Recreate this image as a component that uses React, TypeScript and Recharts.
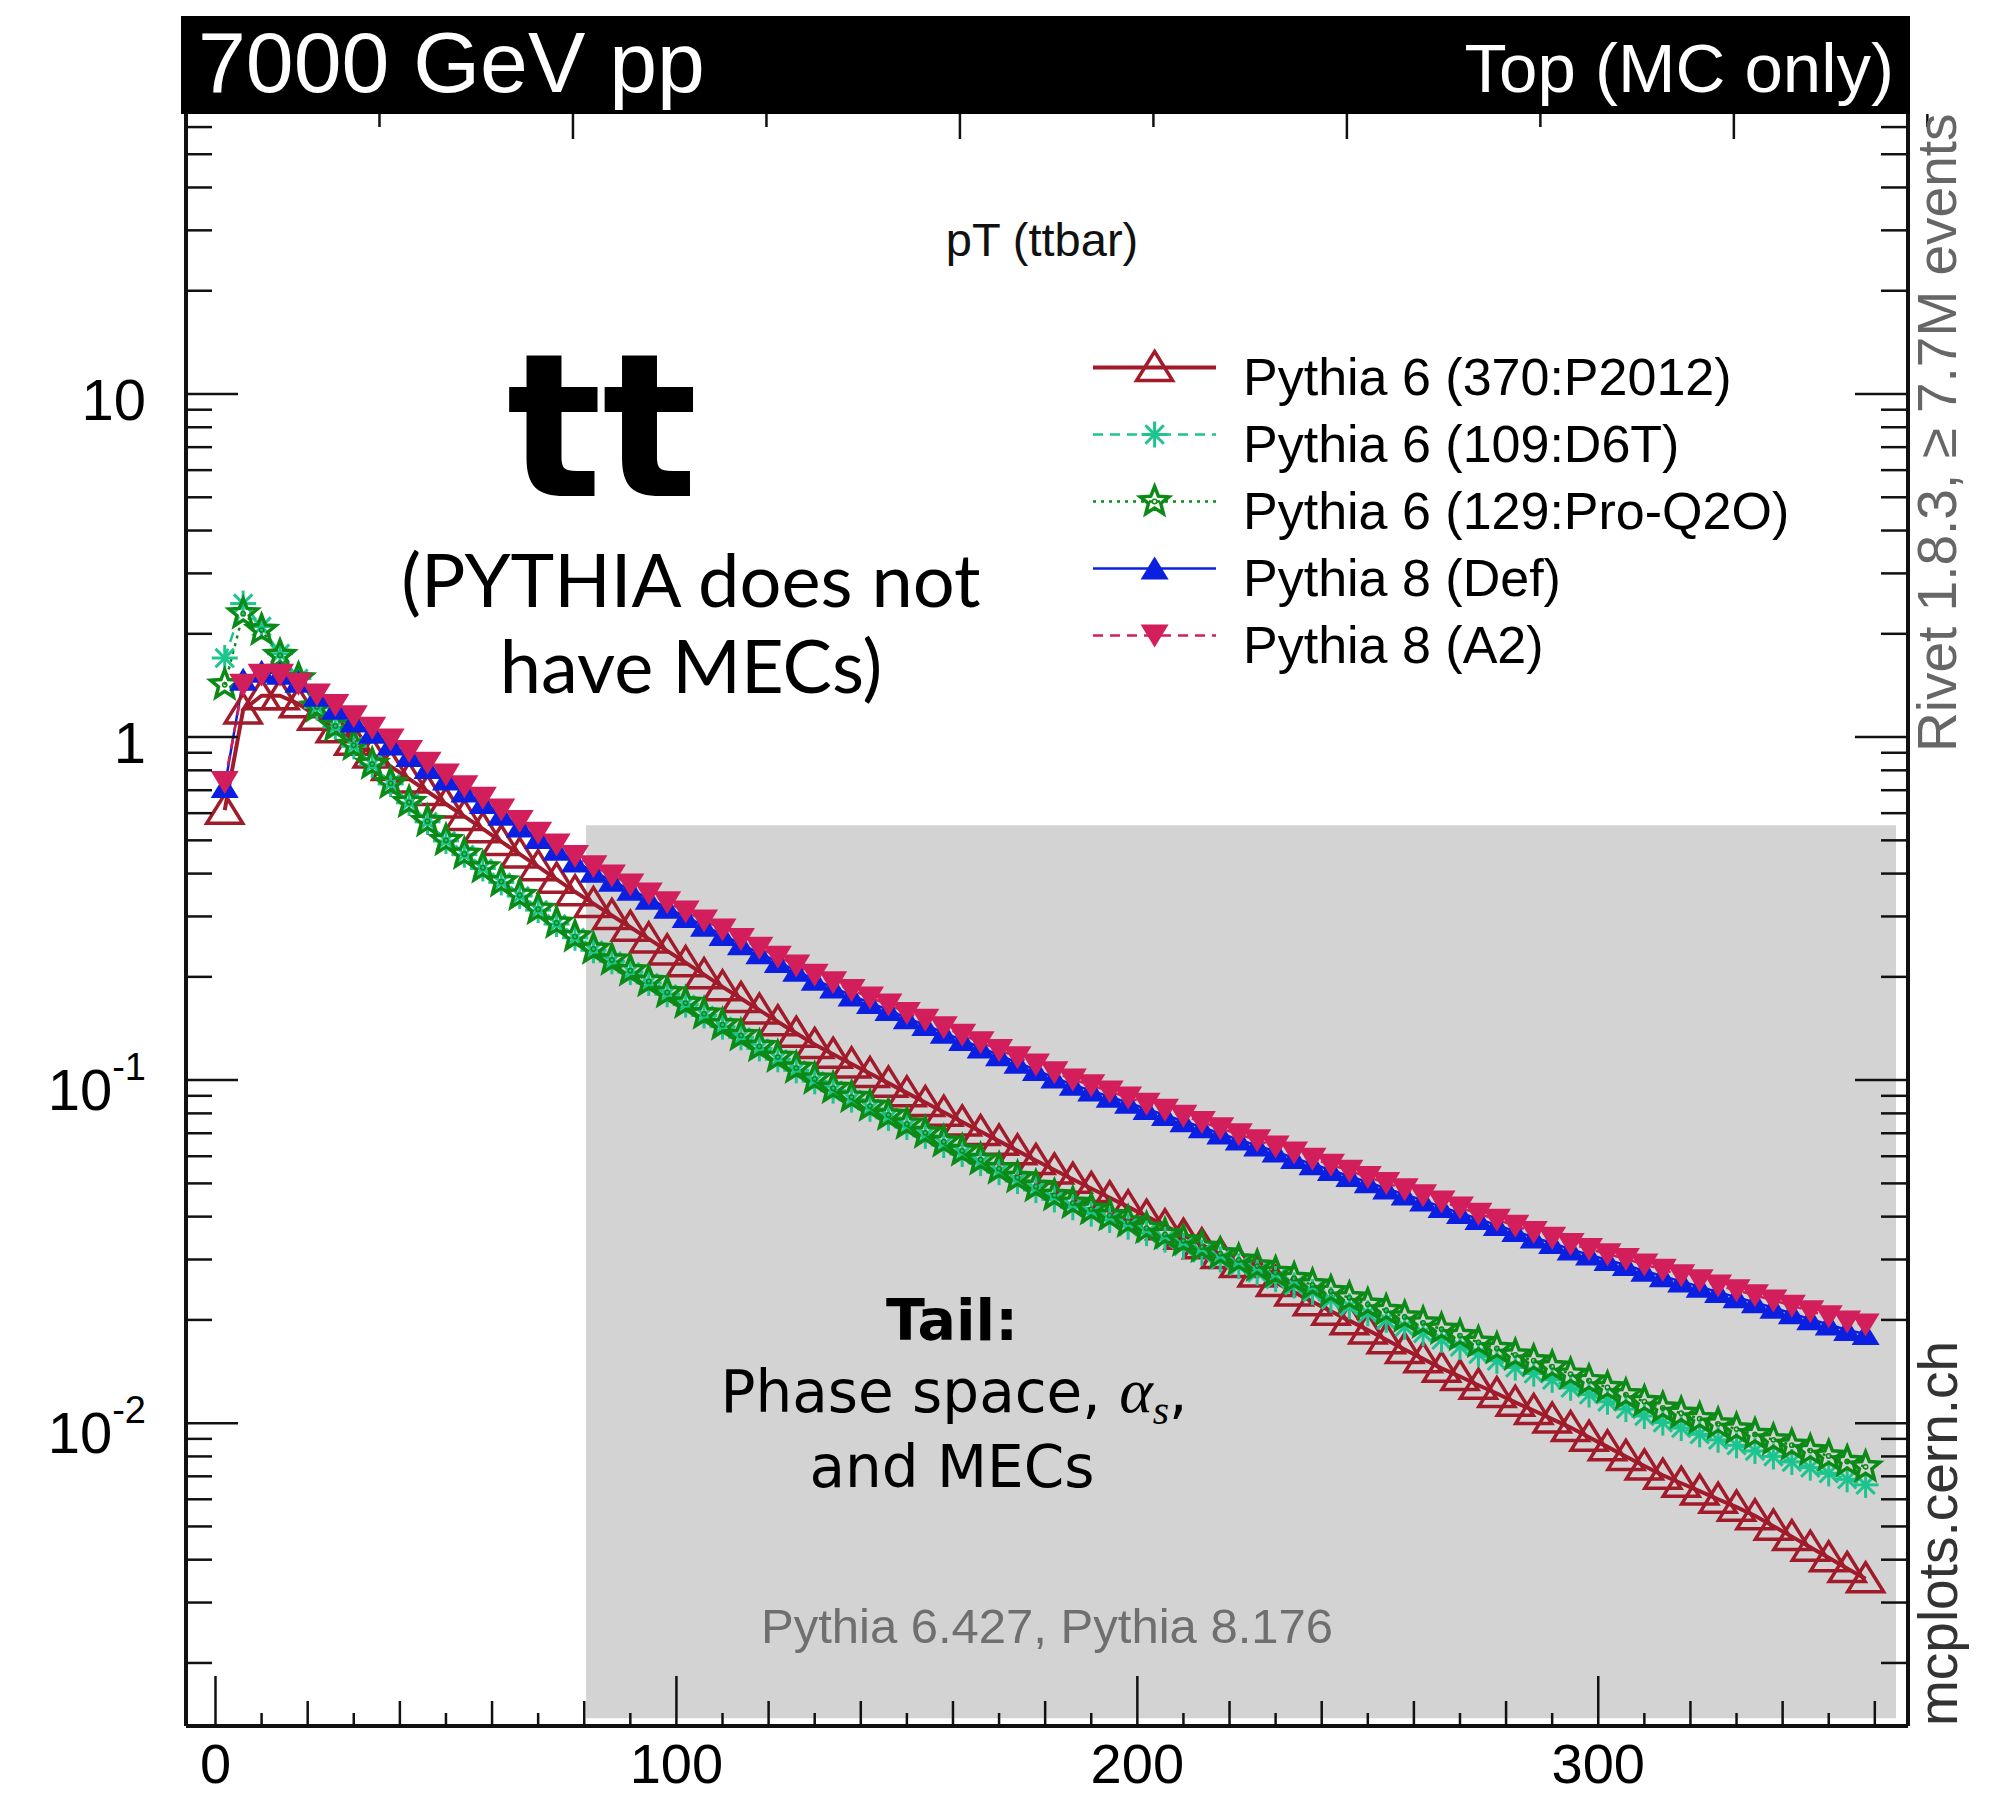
import React from 'react'
import { Legend, Line, LineChart, ReferenceArea, XAxis, YAxis } from 'recharts'

// pT(ttbar) bin centres in GeV (4 GeV bins)
const ptBins = [
  2, 6, 10, 14, 18, 22, 26, 30, 34, 38, 42, 46, 50, 54, 58, 62, 66, 70, 74, 78,
  82, 86, 90, 94, 98, 102, 106, 110, 114, 118, 122, 126, 130, 134, 138, 142, 146, 150, 154, 158,
  162, 166, 170, 174, 178, 182, 186, 190, 194, 198, 202, 206, 210, 214, 218, 222, 226, 230, 234, 238,
  242, 246, 250, 254, 258, 262, 266, 270, 274, 278, 282, 286, 290, 294, 298, 302, 306, 310, 314, 318,
  322, 326, 330, 334, 338, 342, 346, 350, 354, 358,
]

// Pythia 6 (370:P2012)
const p6_370 = [
  0.612, 1.2, 1.32, 1.32, 1.25, 1.15, 1.057, 0.972, 0.893, 0.821,
  0.755, 0.694, 0.638, 0.587, 0.54, 0.496, 0.456, 0.419, 0.385, 0.354,
  0.327, 0.302, 0.279, 0.258, 0.238, 0.22, 0.203, 0.187, 0.173, 0.16,
  0.148, 0.137, 0.127, 0.119, 0.1115, 0.1045, 0.098, 0.0918, 0.086, 0.0806,
  0.0755, 0.0708, 0.0664, 0.0622, 0.0583, 0.0547, 0.0514, 0.0483, 0.0454, 0.0427,
  0.0401, 0.0376, 0.0353, 0.0331, 0.031, 0.0292, 0.0274, 0.0257, 0.0241, 0.0226,
  0.0212, 0.0199, 0.0187, 0.0175, 0.0164, 0.0154, 0.01445, 0.01368, 0.0129, 0.0122,
  0.0115, 0.01089, 0.01028, 0.00971, 0.0091, 0.00853, 0.008, 0.0075, 0.00705, 0.00668,
  0.00634, 0.006, 0.00569, 0.00537, 0.00501, 0.00467, 0.00435, 0.00405, 0.00377, 0.00352,
]

// Pythia 6 (109:D6T)
const p6_109 = [
  1.7, 2.45, 2.1, 1.75, 1.48, 1.22, 1.07, 0.94, 0.83, 0.73,
  0.643, 0.566, 0.498, 0.454, 0.414, 0.377, 0.344, 0.313, 0.285, 0.26,
  0.239, 0.222, 0.2065, 0.192, 0.178, 0.166, 0.1543, 0.1432, 0.1333, 0.1237,
  0.115, 0.1068, 0.0992, 0.0932, 0.0877, 0.0825, 0.0776, 0.073, 0.0688, 0.0647,
  0.0609, 0.0573, 0.0539, 0.0508, 0.0478, 0.0449, 0.0426, 0.0408, 0.0391, 0.0374,
  0.0358, 0.0343, 0.0328, 0.0314, 0.03, 0.0287, 0.0275, 0.0263, 0.0252, 0.0241,
  0.0229, 0.0219, 0.0209, 0.02, 0.0191, 0.0183, 0.0175, 0.0167, 0.0159, 0.0152,
  0.01453, 0.01395, 0.01338, 0.01268, 0.01212, 0.01155, 0.01099, 0.01049, 0.01004, 0.00968,
  0.00928, 0.00894, 0.00862, 0.0083, 0.008, 0.00771, 0.00742, 0.00714, 0.00686, 0.00661,
]

// Pythia 6 (129:Pro-Q2O)
const p6_129 = [
  1.42, 2.29, 2.05, 1.73, 1.48, 1.225, 1.077, 0.947, 0.834, 0.733,
  0.645, 0.568, 0.5, 0.456, 0.416, 0.379, 0.346, 0.315, 0.287, 0.262,
  0.241, 0.224, 0.2085, 0.194, 0.18, 0.1677, 0.156, 0.145, 0.135, 0.1254,
  0.1167, 0.1084, 0.1008, 0.0947, 0.0892, 0.084, 0.0791, 0.0745, 0.0702, 0.0661,
  0.0622, 0.0586, 0.0552, 0.052, 0.049, 0.0461, 0.0438, 0.042, 0.0403, 0.0386,
  0.037, 0.0355, 0.034, 0.0326, 0.0312, 0.0299, 0.0287, 0.0275, 0.0264, 0.0253,
  0.0242, 0.0232, 0.0222, 0.0213, 0.0204, 0.0196, 0.0188, 0.018, 0.0172, 0.0165,
  0.0158, 0.0152, 0.0146, 0.0139, 0.0133, 0.0127, 0.0121, 0.01156, 0.01107, 0.01069,
  0.01031, 0.00995, 0.00961, 0.00927, 0.00894, 0.00863, 0.00832, 0.00802, 0.00773, 0.00746,
]

// Pythia 8 (Def)
const p8def = [
  0.715, 1.47, 1.55, 1.53, 1.45, 1.32, 1.21, 1.11, 1.03, 0.952,
  0.88, 0.812, 0.752, 0.694, 0.642, 0.594, 0.549, 0.508, 0.469, 0.434,
  0.405, 0.381, 0.359, 0.338, 0.318, 0.299, 0.282, 0.265, 0.249, 0.2345,
  0.221, 0.2085, 0.196, 0.1862, 0.1766, 0.1679, 0.1602, 0.1515, 0.1448, 0.1375,
  0.1308, 0.1245, 0.1182, 0.1124, 0.1071, 0.1017, 0.097, 0.0932, 0.0895, 0.0859,
  0.0824, 0.0791, 0.0759, 0.0729, 0.0699, 0.0671, 0.0645, 0.0619, 0.0593, 0.0569,
  0.0547, 0.0525, 0.0504, 0.0483, 0.0464, 0.0446, 0.0427, 0.041, 0.0394, 0.0378,
  0.0363, 0.0348, 0.0335, 0.0321, 0.031, 0.0299, 0.0289, 0.0278, 0.0268, 0.0259,
  0.025, 0.0241, 0.0233, 0.0225, 0.0217, 0.0209, 0.0201, 0.0194, 0.0187, 0.0182,
]

// Pythia 8 (A2)
const p8a2 = [
  0.74, 1.42, 1.52, 1.52, 1.43, 1.33, 1.24, 1.15, 1.064, 0.984,
  0.91, 0.841, 0.778, 0.719, 0.665, 0.615, 0.569, 0.526, 0.486, 0.45,
  0.42, 0.395, 0.372, 0.35, 0.33, 0.31, 0.292, 0.275, 0.258, 0.243,
  0.229, 0.216, 0.203, 0.193, 0.183, 0.174, 0.166, 0.157, 0.15, 0.1425,
  0.1355, 0.129, 0.1225, 0.1165, 0.111, 0.1054, 0.1005, 0.0966, 0.0927, 0.089,
  0.0854, 0.082, 0.0787, 0.0755, 0.0724, 0.0695, 0.0668, 0.0641, 0.0615, 0.059,
  0.0567, 0.0544, 0.0522, 0.0501, 0.0481, 0.0462, 0.0443, 0.0425, 0.0408, 0.0392,
  0.0376, 0.0361, 0.0347, 0.0333, 0.0322, 0.0311, 0.0301, 0.029, 0.028, 0.027,
  0.0261, 0.0252, 0.0244, 0.0236, 0.0228, 0.022, 0.0212, 0.0205, 0.0198, 0.0194,
]

const xTicks = [
  0, 10, 20, 30, 40, 50, 60, 70, 80, 90, 100, 110, 120, 130, 140, 150, 160, 170, 180,
  190, 200, 210, 220, 230, 240, 250, 260, 270, 280, 290, 300, 310, 320, 330, 340, 350, 360,
]

const yTicks = [
  0.002, 0.003, 0.004, 0.005, 0.006, 0.007, 0.008, 0.009,
  0.01, 0.02, 0.03, 0.04, 0.05, 0.06, 0.07, 0.08, 0.09,
  0.1, 0.2, 0.3, 0.4, 0.5, 0.6, 0.7, 0.8, 0.9,
  1, 2, 3, 4, 5, 6, 7, 8, 9,
  10, 20, 30, 40, 50, 60,
]

const series = [
  { key: 'p6_370', name: 'Pythia 6 (370:P2012)', color: '#a11b2b', dash: undefined, width: 4, marker: 'triOpen' },
  { key: 'p6_109', name: 'Pythia 6 (109:D6T)', color: '#1cc48e', dash: '10 7', width: 2.5, marker: 'aster' },
  { key: 'p6_129', name: 'Pythia 6 (129:Pro-Q2O)', color: '#0b8a16', dash: '3 5', width: 2.5, marker: 'star' },
  { key: 'p8def', name: 'Pythia 8 (Def)', color: '#0b1fe0', dash: undefined, width: 2.5, marker: 'triUp' },
  { key: 'p8a2', name: 'Pythia 8 (A2)', color: '#d21f5b', dash: '10 7', width: 2.5, marker: 'triDown' },
]

const chartData = ptBins.map((pt, i) => ({
  pt,
  p6_370: p6_370[i],
  p6_109: p6_109[i],
  p6_129: p6_129[i],
  p8def: p8def[i],
  p8a2: p8a2[i],
}))

const W = 1993
const H = 1797
const PLOT_L = 186
const PLOT_R = 1908
const PLOT_T = 114
const PLOT_B = 1726
const SANS = "'Liberation Sans', Arial, Helvetica, sans-serif"

const starPath = (cx: number, cy: number, R: number, r: number) => {
  let d = ''
  for (let k = 0; k < 10; k++) {
    const a = -Math.PI / 2 + (k * Math.PI) / 5
    const rad = k % 2 === 0 ? R : r
    d += (k === 0 ? 'M' : 'L') + (cx + rad * Math.cos(a)).toFixed(1) + ',' + (cy + rad * Math.sin(a)).toFixed(1) + ' '
  }
  return d + 'Z'
}

const Marker = ({ kind, cx, cy, color }: { kind: string; cx: number; cy: number; color: string }) => {
  if (kind === 'triOpen') {
    return <path d={`M${cx},${cy - 16} L${cx + 18},${cy + 13} L${cx - 18},${cy + 13} Z`} fill="none" stroke={color} strokeWidth={3.5} />
  }
  if (kind === 'triUp') {
    return <path d={`M${cx},${cy - 12} L${cx + 14},${cy + 11} L${cx - 14},${cy + 11} Z`} fill={color} />
  }
  if (kind === 'triDown') {
    return <path d={`M${cx},${cy + 12} L${cx + 14},${cy - 11} L${cx - 14},${cy - 11} Z`} fill={color} />
  }
  if (kind === 'star') {
    return (
      <g>
        <path d={starPath(cx, cy, 15, 6.5)} fill="none" stroke={color} strokeWidth={3.5} />
        <circle cx={cx} cy={cy} r={2.2} fill="none" stroke={color} strokeWidth={1.5} />
      </g>
    )
  }
  // asterisk
  const r = 13
  const d = r * 0.707
  return (
    <g stroke={color} strokeWidth={3}>
      <line x1={cx - r} x2={cx + r} y1={cy} y2={cy} />
      <line x1={cx} x2={cx} y1={cy - r} y2={cy + r} />
      <line x1={cx - d} x2={cx + d} y1={cy - d} y2={cy + d} />
      <line x1={cx - d} x2={cx + d} y1={cy + d} y2={cy - d} />
    </g>
  )
}

const isDecade = (v: number) => {
  const l = Math.log10(v)
  return Math.abs(l - Math.round(l)) < 1e-6
}

const LeftTick = (props: any) => {
  const { y, payload } = props
  const v = payload.value
  const major = isDecade(v)
  const e = Math.round(Math.log10(v))
  return (
    <g>
      <line x1={PLOT_L} x2={PLOT_L + (major ? 52 : 26)} y1={y} y2={y} stroke="#111" strokeWidth={2.5} />
      {major && e >= 0 && (
        <text x={146} y={y + 26} textAnchor="end" fontSize={58} fontFamily={SANS} fill="#000">
          {e === 0 ? '1' : '10'}
        </text>
      )}
      {major && e < 0 && (
        <text x={146} y={y + 30} textAnchor="end" fontSize={58} fontFamily={SANS} fill="#000">
          <tspan>10</tspan>
          <tspan dy={-30} fontSize={38}>{`-${-e}`}</tspan>
        </text>
      )}
    </g>
  )
}

const RightTick = (props: any) => {
  const { y, payload } = props
  const major = isDecade(payload.value)
  return <line x1={PLOT_R} x2={PLOT_R - (major ? 53 : 27)} y1={y} y2={y} stroke="#111" strokeWidth={2.5} />
}

const xTickLen = (v: number) => (v % 100 === 0 ? 50 : v % 20 === 0 ? 25 : 13)

const BottomTick = (props: any) => {
  const { x, payload } = props
  const v = payload.value
  return (
    <g>
      <line x1={x} x2={x} y1={PLOT_B} y2={PLOT_B - xTickLen(v)} stroke="#111" strokeWidth={2.5} />
      {v % 100 === 0 && (
        <text x={x} y={1783} textAnchor="middle" fontSize={56} fontFamily={SANS} fill="#000">
          {v}
        </text>
      )}
    </g>
  )
}

const TopTick = (props: any) => {
  const { x, payload } = props
  return <line x1={x} x2={x} y1={PLOT_T} y2={PLOT_T + xTickLen(payload.value)} stroke="#111" strokeWidth={2.5} />
}

const renderLegend = () => (
  <svg width={720} height={390}>
    {series.map((s, i) => {
      const cy = 47.5 + i * 67
      return (
        <g key={s.key}>
          <line x1={13} x2={136} y1={cy} y2={cy} stroke={s.color} strokeWidth={s.width} strokeDasharray={s.dash} />
          <Marker kind={s.marker} cx={74.6} cy={cy} color={s.color} />
          <text x={163} y={cy + 27} fontSize={52} fontFamily={SANS} fill="#000">
            {s.name}
          </text>
        </g>
      )
    })}
  </svg>
)

export default function App() {
  return (
    <div style={{ position: 'absolute', left: 0, top: 0, width: W, height: H, background: '#fff' }}>
      <LineChart width={W} height={H} data={chartData} margin={{ top: 0, right: 0, bottom: 0, left: 0 }}>
        <ReferenceArea
          xAxisId="bottom"
          yAxisId="left"
          x1={80.4}
          x2={364.6}
          y1={0.00138}
          y2={0.553}
          fill="#d3d3d3"
          fillOpacity={1}
          stroke="none"
          ifOverflow="visible"
        />
        <XAxis
          xAxisId="bottom"
          dataKey="pt"
          type="number"
          domain={[-6.4, 367.2]}
          ticks={xTicks}
          interval={0}
          height={71}
          allowDataOverflow
          axisLine={{ stroke: '#111', strokeWidth: 4 }}
          tickLine={false}
          tick={BottomTick}
        />
        <XAxis
          xAxisId="top"
          orientation="top"
          type="number"
          domain={[-6.4, 367.2]}
          ticks={xTicks}
          interval={0}
          height={114}
          allowDataOverflow
          axisLine={false}
          tickLine={false}
          tick={TopTick}
        />
        <YAxis
          yAxisId="left"
          type="number"
          scale="log"
          domain={[0.00131, 65.5]}
          ticks={yTicks}
          interval={0}
          width={186}
          allowDataOverflow
          axisLine={{ stroke: '#111', strokeWidth: 4 }}
          tickLine={false}
          tick={LeftTick}
        />
        <YAxis
          yAxisId="right"
          orientation="right"
          type="number"
          scale="log"
          domain={[0.00131, 65.5]}
          ticks={yTicks}
          interval={0}
          width={85}
          allowDataOverflow
          axisLine={{ stroke: '#111', strokeWidth: 4 }}
          tickLine={false}
          tick={RightTick}
        />
        {series.map((s) => (
          <Line
            key={s.key}
            xAxisId="bottom"
            yAxisId="left"
            type="linear"
            dataKey={s.key}
            name={s.name}
            stroke={s.color}
            strokeWidth={s.width}
            strokeDasharray={s.dash}
            isAnimationActive={false}
            activeDot={false}
            dot={(p: any) => (
              <g key={`${s.key}-${p.index}`}>
                <Marker kind={s.marker} cx={p.cx} cy={p.cy} color={s.color} />
              </g>
            )}
          />
        ))}
        <Legend
          layout="vertical"
          align="center"
          verticalAlign="middle"
          content={renderLegend}
          wrapperStyle={{ position: 'absolute', left: 1080, top: 320, width: 720, height: 390, margin: 0 }}
        />
      </LineChart>

      <svg
        width={W}
        height={H}
        style={{ position: 'absolute', left: 0, top: 0, pointerEvents: 'none' }}
      >
        {/* header bar */}
        <rect x={181} y={16} width={1729} height={98} fill="#000" />
        <text x={198} y={92} fontSize={86} fontFamily={SANS} fill="#fff">
          7000 GeV pp
        </text>
        <text x={1894} y={92} textAnchor="end" fontSize={69} fontFamily={SANS} fill="#fff">
          Top (MC only)
        </text>

        <text x={1042} y={256} textAnchor="middle" fontSize={47} fontFamily={SANS} fill="#111">
          pT (ttbar)
        </text>

        <text x={602} y={496} textAnchor="middle" fontSize={200} fontWeight="bold" fontFamily="'DejaVu Sans', Verdana, sans-serif" fill="#000">
          tt
        </text>
        <text x={691} y={607} textAnchor="middle" fontSize={74} fontFamily="Lato, 'Open Sans', sans-serif" fill="#000">
          (PYTHIA does not
        </text>
        <text x={691} y={693} textAnchor="middle" fontSize={74} fontFamily="Lato, 'Open Sans', sans-serif" fill="#000">
          have MECs)
        </text>

        <text x={952} y={1340} textAnchor="middle" fontSize={57} fontWeight="bold" fontFamily="'DejaVu Sans', Verdana, sans-serif" fill="#000">
          Tail:
        </text>
        <text x={954} y={1412} textAnchor="middle" fontSize={58} fontFamily="'DejaVu Sans', Verdana, sans-serif" fill="#000">
          <tspan>Phase space, </tspan>
          <tspan fontFamily="'Liberation Serif', 'DejaVu Serif', serif" fontStyle="italic" fontSize={64}>α</tspan>
          <tspan fontFamily="'Liberation Serif', 'DejaVu Serif', serif" fontStyle="italic" fontSize={42} dy={12}>s</tspan>
          <tspan dy={-12}>,</tspan>
        </text>
        <text x={952} y={1487} textAnchor="middle" fontSize={58} fontFamily="'DejaVu Sans', Verdana, sans-serif" fill="#000">
          and MECs
        </text>

        <text x={1047} y={1643} textAnchor="middle" fontSize={49} fontFamily={SANS} fill="#6f6f6f">
          Pythia 6.427, Pythia 8.176
        </text>

        {/* right margin labels */}
        <text transform="translate(1956, 752) rotate(-90)" fontSize={55} fontFamily={SANS} fill="#666">
          Rivet 1.8.3, ≥ 7.7M events
        </text>
        <text transform="translate(1957, 1726) rotate(-90)" fontSize={55} fontFamily={SANS} fill="#333">
          mcplots.cern.ch
        </text>
      </svg>
    </div>
  )
}
